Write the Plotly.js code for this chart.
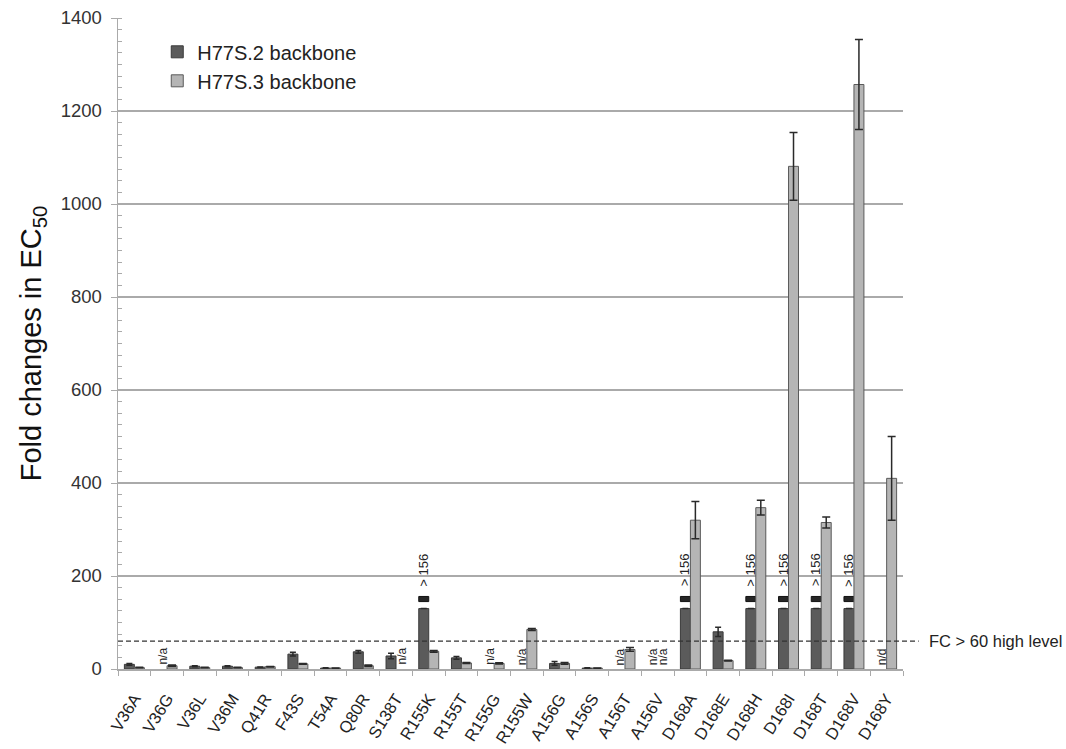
<!DOCTYPE html>
<html>
<head>
<meta charset="utf-8">
<script src="https://cdn.plot.ly/plotly-3.0.1.min.js"></script>
<style>html,body{margin:0;padding:0;background:#fff;}#chart{width:1066px;height:749px;}</style>
</head>
<body>
<div id="chart"></div>
<script>
// ---- data ----
var categories = ['V36A','V36G','V36L','V36M','Q41R','F43S','T54A','Q80R','S138T','R155K','R155T','R155G','R155W','A156G','A156S','A156T','A156V','D168A','D168E','D168H','D168I','D168T','D168V','D168Y'];

var h2Values = [10, null, 6, 6, 4, 32, 2, 37, 28, 156, 24, null, null, 12, 2, null, null, 156, 80, 156, 156, 156, 156, null];
var h2Errors = [2, 0, 1, 1, 0.5, 4, 0.5, 3, 6, 0, 3, 0, 0, 4, 0.5, 0, 0, 0, 10, 0, 0, 0, 0, 0];
var h2Status = ['', 'n/a', '', '', '', '', '', '', '', '> 156', '', 'n/a', 'n/a', '', '', 'n/a', 'n/a', '> 156', '', '> 156', '> 156', '> 156', '> 156', 'n/d'];

var h3Values = [3, 7, 3, 3, 5, 11, 2, 7, null, 38, 13, 12, 85, 12, 2, 42, null, 320, 18, 347, 1081, 315, 1257, 410];
var h3Errors = [0.5, 1.5, 0.5, 0.5, 0.5, 1, 0.3, 1.5, 0, 2, 1, 1.5, 2, 2, 0.3, 4, 0, 40, 1, 16, 73, 12, 97, 90];
var h3Status = ['', '', '', '', '', '', '', '', 'n/a', '', '', '', '', '', '', '', 'n/a', '', '', '', '', '', '', ''];

var yTickVals = [0, 200, 400, 600, 800, 1000, 1200, 1400];
var highLevel = 60;
var highLevelLabel = 'FC > 60 high level';

// axis break drawing for censored (> 156) values
var breakLow = 130, breakHigh = 145;

// ---- derived ----
var censored = h2Status.map(function(s){ return s.indexOf('>') === 0; });
var h2Main = h2Values.map(function(v, i){ return censored[i] ? breakLow : v; });
var h2MainErr = h2Errors.map(function(e, i){ return censored[i] ? 0 : e; });
var capBase = h2Values.map(function(v, i){ return censored[i] ? breakHigh : null; });
var capLen = h2Values.map(function(v, i){ return censored[i] ? v - breakHigh : null; });

var dark = '#5b5b5b', light = '#b5b5b5', grid = '#aaaaaa';
var fontFam = 'Arial, "Liberation Sans", sans-serif';

var traces = [
  {
    type: 'bar', name: 'H77S.2 backbone', x: categories, y: h2Main,
    offsetgroup: 'a',
    marker: {color: dark, line: {color: '#3a3a3a', width: 1}},
    error_y: {type: 'data', array: h2MainErr, visible: true, color: '#2a2a2a', thickness: 1.5, width: 3}
  },
  {
    type: 'bar', name: 'cap', showlegend: false, x: categories, y: capLen, base: capBase,
    offsetgroup: 'a',
    marker: {color: '#262626', line: {color: '#111', width: 1}}
  },
  {
    type: 'bar', name: 'H77S.3 backbone', x: categories, y: h3Values,
    offsetgroup: 'b',
    marker: {color: light, line: {color: '#5a5a5a', width: 1}},
    error_y: {type: 'data', array: h3Errors, visible: true, color: '#2a2a2a', thickness: 1.5, width: 4}
  }
];

var annotations = [];
function addStatus(statusArr, shift) {
  statusArr.forEach(function(s, i){
    if (!s) return;
    var isCens = s.indexOf('>') === 0;
    annotations.push({
      x: categories[i], y: isCens ? h2Values[i] : 0, xref: 'x', yref: 'y',
      text: s, showarrow: false, textangle: -90,
      xanchor: 'center', yanchor: 'bottom', xshift: shift, yshift: isCens ? 8 : 2,
      font: {family: fontFam, size: isCens ? 13 : 12, color: '#222'}
    });
  });
}
addStatus(h2Status, -5);
addStatus(h3Status, 5);
annotations.push({
  x: 1.03, xref: 'paper', y: highLevel, yref: 'y', text: highLevelLabel, showarrow: false,
  xanchor: 'left', yanchor: 'middle', font: {family: fontFam, size: 16.5, color: '#222'}
});

var layout = {
  width: 1066, height: 749,
  margin: {l: 118, r: 163, t: 18, b: 80},
  paper_bgcolor: '#fff', plot_bgcolor: '#fff',
  font: {family: fontFam, color: '#333'},
  barmode: 'group', bargap: 0.39, bargroupgap: 0,
  showlegend: true,
  legend: {x: 0.05, y: 0.978, xanchor: 'left', yanchor: 'top', font: {family: fontFam, size: 20, color: '#222'}, bgcolor: 'rgba(0,0,0,0)', tracegroupgap: 0, itemwidth: 30},
  xaxis: {
    type: 'category', automargin: false,
    showline: true, linecolor: grid, linewidth: 1.5,
    ticks: 'outside', tickson: 'boundaries', ticklen: 5, tickcolor: grid,
    tickangle: -58, tickfont: {family: fontFam, size: 16.5, color: '#222'},
    ticklabelstandoff: 12,
    showgrid: false
  },
  yaxis: {
    range: [0, 1400], automargin: false,
    tickvals: yTickVals, ticks: 'outside', ticklen: 6, tickcolor: grid,
    showline: true, linecolor: grid, linewidth: 1.5,
    showgrid: true, gridcolor: grid, gridwidth: 1.5, zeroline: false,
    tickfont: {family: fontFam, size: 18.5, color: '#333'},
    ticklabelstandoff: 5,
    minor: {ticks: 'inside', dtick: 25, ticklen: 4, tickcolor: grid, showgrid: false},
    title: {text: 'Fold changes in EC<sub>50</sub>', font: {family: fontFam, size: 29, color: '#111'}, standoff: 10}
  },
  shapes: [{
    type: 'line', xref: 'paper', yref: 'y', x0: 0, x1: 1.02, y0: highLevel, y1: highLevel,
    layer: 'above', line: {color: '#333', width: 1.2, dash: '5px,3px'}
  }],
  annotations: annotations
};

Plotly.newPlot('chart', traces, layout, {displayModeBar: false, staticPlot: true});
</script>
</body>
</html>
